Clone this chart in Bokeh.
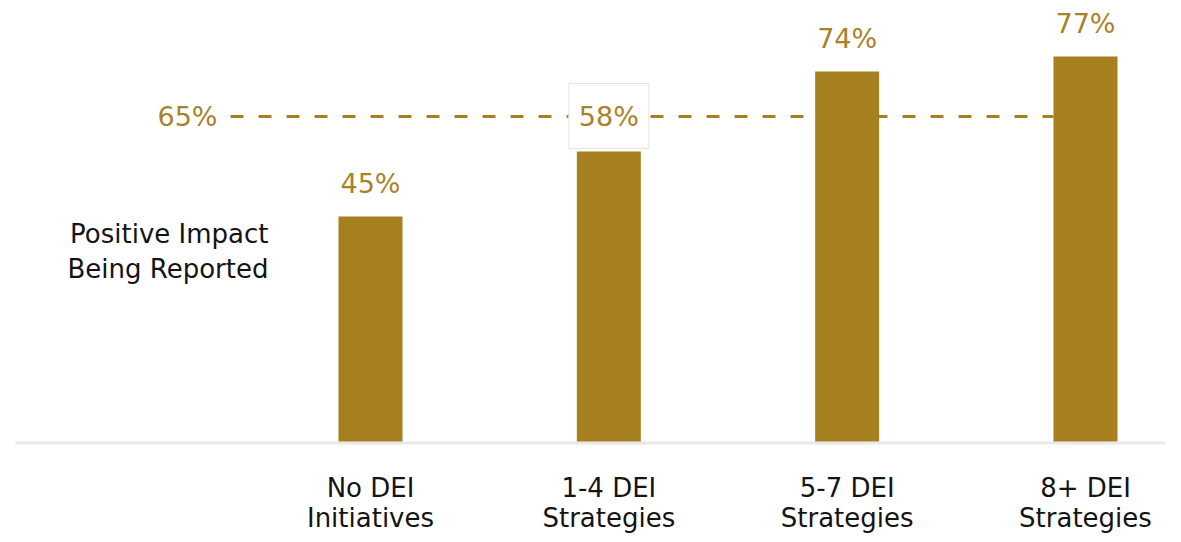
from bokeh.plotting import figure
from bokeh.models import ColumnDataSource, Range1d
from bokeh.core.properties import value
from bokeh.embed import file_html
from bokeh.resources import INLINE

# ---- data ----
cat_line1 = ["No DEI", "1-4 DEI", "5-7 DEI", "8+ DEI"]
cat_line2 = ["Initiatives", "Strategies", "Strategies", "Strategies"]
values = [45, 58, 74, 77]
labels = ["45%", "58%", "74%", "77%"]
benchmark = 65
benchmark_label = "65%"
side_title = ["Positive Impact", "Being Reported"]

GOLD = "#A67F1E"
GOLD_TXT = "#A8832A"
INK = "#141414"
FONT = value("DejaVu Sans")

W, H = 1165, 534
px_x = 238.33   # pixels per category step
px_y = 5.0      # pixels per percent
base_px = 441   # baseline position from top (pixels)
x0 = -370 / px_x
y0 = -(H - base_px) / px_y


def X(px):
    return x0 + px / px_x


def Y(py):
    return (base_px - py) / px_y


p = figure(width=W, height=H, output_backend="svg", toolbar_location=None,
           x_range=Range1d(x0, x0 + W / px_x), y_range=Range1d(y0, y0 + H / px_y),
           min_border=0, outline_line_color=None)
p.xaxis.visible = False
p.yaxis.visible = False
p.grid.visible = False
p.background_fill_color = "white"
p.border_fill_color = "white"

xs = list(range(len(values)))
bw = 64 / px_x

# baseline
p.segment(x0=[X(15)], x1=[X(1165)], y0=[-0.3], y1=[-0.3],
          line_color="#e9e9e9", line_width=3)

# dashed benchmark line (from left label to the last bar)
p.segment(x0=[X(230)], x1=[xs[-1] - bw / 2], y0=[benchmark], y1=[benchmark],
          line_color=GOLD, line_width=3, line_dash="13 15")

# bars
src = ColumnDataSource(dict(x=xs, top=values, lab=labels, l1=cat_line1, l2=cat_line2,
                            y1=[Y(487)] * len(xs), y2=[Y(517)] * len(xs)))
p.vbar(x="x", top="top", bottom=0, width=bw, source=src, fill_color=GOLD, line_color=None)

# value labels
lab_y = []
for v in values:
    lab_y.append(v + 33 / px_y)
lab_y[1] = benchmark  # 58% sits in a box on the benchmark line
src_lab = ColumnDataSource(dict(x=xs, y=lab_y, lab=labels))

# white box behind the 58% label
p.rect(x=[xs[1]], y=[Y(115.5)], width=80 / px_x, height=65 / px_y,
       fill_color="white", line_color="#e4e4e4", line_width=1)

p.text(x="x", y="y", text="lab", source=src_lab, text_align="center", text_baseline="middle",
       text_font=FONT, text_font_size="27px", text_font_style="normal", text_color=GOLD_TXT)

# benchmark label
p.text(x=[X(187)], y=[benchmark], text=[benchmark_label], text_align="center",
       text_baseline="middle", text_font=FONT, text_font_size="27px",
       text_font_style="normal", text_color=GOLD_TXT)

# category labels (two lines)
p.text(x="x", y="y1", text="l1", source=src, text_align="center",
       text_baseline="middle", text_font=FONT, text_font_size="26px",
       text_font_style="normal", text_color=INK)
p.text(x="x", y="y2", text="l2", source=src, text_align="center",
       text_baseline="middle", text_font=FONT, text_font_size="26px",
       text_font_style="normal", text_color=INK)

# side title
p.text(x=[X(268)] * 2, y=[Y(233), Y(268)], text=side_title,
       text_align="right", text_baseline="middle", text_font=FONT,
       text_font_size="26px", text_font_style="normal", text_color=INK)

open("out.html", "w").write(file_html(p, INLINE))
